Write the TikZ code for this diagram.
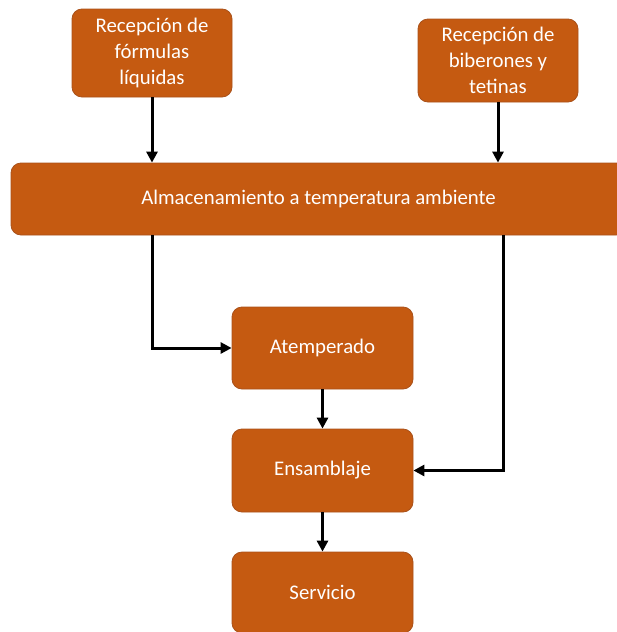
\documentclass[tikz,border=0pt]{standalone}
\usepackage{fontspec}
\setmainfont{Carlito}
\usetikzlibrary{arrows.meta}
\definecolor{boxfill}{HTML}{C55A11}
\definecolor{boxline}{HTML}{A9511A}
\begin{document}
\begin{tikzpicture}[x=1pt,y=-1pt,
  box/.style={draw=boxline, line width=0.8pt, fill=boxfill, rounded corners=10pt,
    text=white, font=\fontsize{20.8}{26}\selectfont, align=center, inner sep=0pt},
  conn/.style={line width=3pt, -{Triangle[length=11pt,width=11pt]}}]
\useasboundingbox (0,0) rectangle (616,632);
\node[box, minimum width=160pt, minimum height=88pt] (rf) at (152,53) {Recepción de\\fórmulas\\líquidas};
\node[box, minimum width=160pt, minimum height=83pt] (rb) at (498,60.5) {Recepción de\\biberones y\\tetinas};
\node[box, minimum width=615pt, minimum height=72pt] (alm) at (318.5,199) {Almacenamiento a temperatura ambiente};
\node[box, minimum width=181pt, minimum height=82pt] (at) at (322.5,348) {Atemperado};
\node[box, minimum width=181pt, minimum height=83pt] (ens) at (322.5,470.5) {Ensamblaje};
\node[box, minimum width=181pt, minimum height=81pt] (serv) at (322.5,592.5) {Servicio};
\coordinate (rx) at (503,0);
\draw[conn] (rf.south) -- (rf.south |- alm.north);
\draw[conn] (rb.south) -- (rb.south |- alm.north);
\draw[conn] (alm.south -| rf.south) |- (at.west);
\draw[conn] (alm.south -| rx) |- (ens.east);
\draw[conn] (at) -- (ens);
\draw[conn] (ens) -- (serv);
\end{tikzpicture}
\end{document}
